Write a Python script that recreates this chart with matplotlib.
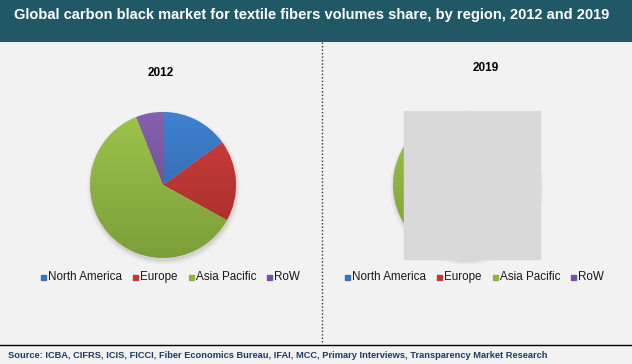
import numpy as np
import matplotlib
matplotlib.use("Agg")
import matplotlib.pyplot as plt
from matplotlib.patches import Rectangle, Circle
from matplotlib.colors import to_rgb

plt.rcParams['font.family'] = ['Liberation Sans', 'DejaVu Sans']

# Data (volume share, %)
regions = ["North America", "Europe", "Asia Pacific", "RoW"]
share_2012 = [15, 18, 61, 6]
share_2019 = [14, 16, 64, 6]
years = ["2012", "2019"]

title = "Global carbon black market for textile fibers volumes share, by region, 2012 and 2019"
source = ("Source: ICBA, CIFRS, ICIS, FICCI, Fiber Economics Bureau, IFAI, MCC, "
          "Primary Interviews, Transparency Market Research")

# light / dark ends of the slice gradients
top_colors = ["#3F82CF", "#CF3F3C", "#9DC44B", "#8561AE"]
bot_colors = ["#2D5D9C", "#A02C2A", "#7C9E39", "#644488"]
legend_colors = ["#3A73B8", "#BE3A37", "#8DB346", "#7353A0"]

W, H = 632, 364
BG = "#F2F2F2"

fig = plt.figure(figsize=(W / 100, H / 100), dpi=100, facecolor=BG)


def px_axes(x0, y0, w, h):
    # axes from pixel box (top-left origin)
    return fig.add_axes([x0 / W, 1 - (y0 + h) / H, w / W, h / H])


# header band
hdr = px_axes(0, 0, W, 42)
hdr.set_axis_off()
hdr.add_patch(Rectangle((0, 0), 1, 1, color="#215866", transform=hdr.transAxes))
fig.text(14 / W, 1 - 15 / H, title, color="white", fontsize=10.5,
         fontweight="bold", va="center", ha="left")


def draw_pie(cx, cy, r, values):
    ax = px_axes(cx - r - 6, cy - r - 6, 2 * r + 12, 2 * r + 12)
    lim = 1 + 6 / r
    ax.set_axis_off()
    # soft shadow
    for i, a in enumerate(np.linspace(0.10, 0.02, 5)):
        ax.add_patch(Circle((0.01, -0.04), 1.0 + 0.015 * i, color="#7F7F7F",
                            alpha=a, lw=0, zorder=0))
    wedges, _ = ax.pie(values, startangle=90, counterclock=False, radius=1,
                       colors=top_colors, wedgeprops=dict(lw=0.4, edgecolor="#E8E8E8"))
    ax.set_xlim(-lim, lim)
    ax.set_ylim(-lim, lim)
    t = np.linspace(0, 1, 128)[:, None]
    for w, c1, c2 in zip(wedges, top_colors, bot_colors):
        c1, c2 = np.array(to_rgb(c1)), np.array(to_rgb(c2))
        grad = c1[None, None, :] * (1 - t[..., None]) + c2[None, None, :] * t[..., None]
        grad = np.repeat(grad, 2, axis=1)
        im = ax.imshow(grad, extent=(-1, 1, -1, 1), aspect="auto", zorder=2)
        im.set_clip_path(w)
    return ax


centers = [(163, 185), (466, 185)]
year_pos = [(161, 73), (486, 68)]
legend_x = [41, 345]

for (cx, cy), yr, (yx, yy), lx, vals in zip(centers, years, year_pos, legend_x,
                                            [share_2012, share_2019]):
    draw_pie(cx, cy, 73, vals)
    fig.text(yx / W, 1 - yy / H, yr, fontsize=8.5, fontweight="bold",
             ha="center", va="center", color="black")
    # legend row
    x = lx
    for name, col in zip(regions, legend_colors):
        fig.patches.append(Rectangle((x / W, 1 - 280 / H), 5 / W, 5 / H,
                                     color=col, transform=fig.transFigure))
        t = fig.text((x + 7) / W, 1 - 277 / H, name, fontsize=8.4,
                     va="center", ha="left", color="#1A1A1A")
        fig.canvas.draw()
        bb = t.get_window_extent()
        x = x + 7 + bb.width + 11

# gray box over the 2019 pie, as in the reference
fig.patches.append(Rectangle((404 / W, 1 - 259 / H), 136 / W, 148 / H,
                             color="#D9D9D9", transform=fig.transFigure, zorder=5))

# dotted divider
fig.add_artist(plt.Line2D([322 / W, 322 / W], [1 - 42 / H, 1 - 344 / H],
                          transform=fig.transFigure, color="#333333",
                          lw=1, ls=(0, (1, 1.5))))

# footer rule and source
fig.add_artist(plt.Line2D([0, 1], [1 - 345 / H, 1 - 345 / H],
                          transform=fig.transFigure, color="black", lw=1))
fig.text(8 / W, 1 - 355 / H, source, fontsize=6.7, fontweight="bold",
         family=["Liberation Sans Narrow", "Liberation Sans"],
         color="#1F3A5F", va="center", ha="left")

fig.savefig("out.png", dpi=100, facecolor=BG)
